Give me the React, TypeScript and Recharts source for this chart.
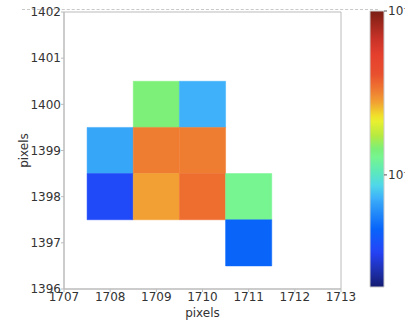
import React from "react";
import { ComposedChart, XAxis, YAxis, ReferenceArea, Scatter } from "recharts";

// ---- data ----
const cellX = [1709, 1710, 1708, 1709, 1710, 1708, 1709, 1710, 1711, 1711];
const cellY = [1400, 1400, 1399, 1399, 1399, 1398, 1398, 1398, 1398, 1397];
const cellValue = [0.0144, 0.0072, 0.0069, 0.0325, 0.0325, 0.0036, 0.0278, 0.0351, 0.0128, 0.0047];

const xTicks = [1707, 1708, 1709, 1710, 1711, 1712, 1713];
const yTicks = [1396, 1397, 1398, 1399, 1400, 1401, 1402];

const cbLogMin = -2.684;
const cbLogMax = -1;
const cbMajorTicks = [-1, -2];
const cbMajorLabels = ["10\u207B\u00B9", "10\u207B\u00B2"];
const cbMinorTicks = [
  -1.046, -1.097, -1.155, -1.222, -1.301, -1.398, -1.523, -1.699,
  -2.046, -2.097, -2.155, -2.222, -2.301, -2.398, -2.523,
];

// colormap stops: position from bottom (0) to top (1)
const cmapPos = [0, 0.06, 0.12, 0.14, 0.21, 0.31, 0.32, 0.37, 0.42, 0.47, 0.5, 0.55, 0.6, 0.62, 0.67, 0.71, 0.73, 0.77, 0.84, 0.9, 1];
const cmapColor = [
  "#141c70", "#1e30b0", "#2440f0", "#2149f8", "#0864fa", "#36a6f8", "#3db0fb", "#50d8e8",
  "#5eeab8", "#76f590", "#7cf078", "#b8ea40", "#e8f030", "#f0e02a", "#f2a033", "#ee7d32",
  "#ee6e30", "#e8502e", "#e5402e", "#c83228", "#7a1e14",
];

function hexToRgb(h: string) {
  const n = parseInt(h.slice(1), 16);
  return [(n >> 16) & 255, (n >> 8) & 255, n & 255];
}
function colorFor(value: number) {
  const t = Math.max(0, Math.min(1, (Math.log10(value) - cbLogMin) / (cbLogMax - cbLogMin)));
  for (let i = 0; i < cmapPos.length - 1; i++) {
    if (t >= cmapPos[i] && t <= cmapPos[i + 1]) {
      const f = (t - cmapPos[i]) / (cmapPos[i + 1] - cmapPos[i] || 1);
      const a = hexToRgb(cmapColor[i]);
      const b = hexToRgb(cmapColor[i + 1]);
      const c = a.map((v, k) => Math.round(v + (b[k] - v) * f));
      return `rgb(${c[0]},${c[1]},${c[2]})`;
    }
  }
  return cmapColor[cmapColor.length - 1];
}

const cells = cellX.map((x, i) => ({ x, y: cellY[i], value: cellValue[i] }));
const cbExtent = [
  { cx: 0, cy: cbLogMin },
  { cx: 1, cy: cbLogMax },
];

const font = "'DejaVu Sans', sans-serif";
const textColor = "#333";
const axisColor = "#bbb";

export default function App() {
  return (
    <div style={{ position: "absolute", left: 0, top: 0, width: 405, height: 325, background: "#fff" }}>
      <div
        style={{
          position: "absolute",
          left: 22,
          top: 9,
          width: 356,
          height: 0,
          borderTop: "1px dashed #c8c8c8",
        }}
      />
      <div style={{ position: "absolute", left: 0, top: 0 }}>
        <ComposedChart width={405} height={325} margin={{ top: 12, right: 64, bottom: 0, left: 0 }}>
          <XAxis
            dataKey="x"
            type="number"
            domain={[1707, 1713]}
            ticks={xTicks}
            allowDataOverflow
            height={36}
            tickSize={3}
            tickMargin={0}
            axisLine={{ stroke: axisColor }}
            tickLine={{ stroke: axisColor }}
            tick={{ fontSize: 12, fill: textColor, fontFamily: font }}
            label={{ value: "pixels", position: "insideBottom", offset: 8, fontSize: 12, fill: textColor, fontFamily: font }}
          />
          <YAxis
            dataKey="y"
            type="number"
            domain={[1396, 1402]}
            ticks={yTicks}
            allowDataOverflow
            width={64}
            tickSize={3}
            tickMargin={0}
            axisLine={{ stroke: axisColor }}
            tickLine={{ stroke: axisColor }}
            tick={{ fontSize: 12, fill: textColor, fontFamily: font }}
            label={{
              value: "pixels",
              angle: -90,
              position: "insideLeft",
              offset: 24,
              fontSize: 12,
              fill: textColor,
              fontFamily: font,
              style: { textAnchor: "middle" },
            }}
          />
          {cells.map((c, i) => {
            const col = colorFor(c.value);
            return (
              <ReferenceArea
                key={i}
                x1={c.x - 0.5}
                x2={c.x + 0.5}
                y1={c.y - 0.5}
                y2={c.y + 0.5}
                fill={col}
                fillOpacity={1}
                stroke={col}
                strokeWidth={0.5}
              />
            );
          })}
          <Scatter data={cells} dataKey="y" fill="none" isAnimationActive={false} shape={() => <g />} />
          <ReferenceArea x1={1707} x2={1713} y1={1396} y2={1402} fill="none" stroke={axisColor} strokeWidth={1} />
        </ComposedChart>
      </div>
      <div style={{ position: "absolute", left: 0, top: 0 }}>
        <ComposedChart width={405} height={325} margin={{ top: 11, right: 0, bottom: 38, left: 370 }}>
          <defs>
            <linearGradient id="cbGrad" x1="0" y1="1" x2="0" y2="0">
              {cmapPos.map((p, i) => (
                <stop key={i} offset={`${p * 100}%`} stopColor={cmapColor[i]} />
              ))}
            </linearGradient>
          </defs>
          <XAxis dataKey="cx" type="number" domain={[0, 1]} hide allowDataOverflow />
          <YAxis
            yAxisId="cb"
            dataKey="cy"
            orientation="right"
            type="number"
            domain={[cbLogMin, cbLogMax]}
            allowDataOverflow
            ticks={cbMajorTicks}
            tickFormatter={(v: number) => cbMajorLabels[cbMajorTicks.indexOf(v)] ?? ""}
            width={21}
            tickSize={3}
            tickMargin={1}
            axisLine={false}
            tickLine={{ stroke: "#555" }}
            tick={{ fontSize: 12, fill: textColor, fontFamily: font, textAnchor: "start" }}
          />
          <YAxis
            yAxisId="minor"
            orientation="right"
            mirror
            type="number"
            domain={[cbLogMin, cbLogMax]}
            allowDataOverflow
            ticks={cbMinorTicks}
            tick={false}
            tickSize={2}
            axisLine={false}
            tickLine={{ stroke: "#888" }}
          />
          <Scatter
            yAxisId="cb"
            data={cbExtent}
            dataKey="cy"
            fill="none"
            isAnimationActive={false}
            shape={() => <g />}
          />
          <ReferenceArea
            yAxisId="cb"
            x1={0}
            x2={1}
            y1={cbLogMin}
            y2={cbLogMax}
            fill="url(#cbGrad)"
            fillOpacity={1}
            stroke="#ccc"
            strokeWidth={1}
          />
        </ComposedChart>
      </div>
    </div>
  );
}
